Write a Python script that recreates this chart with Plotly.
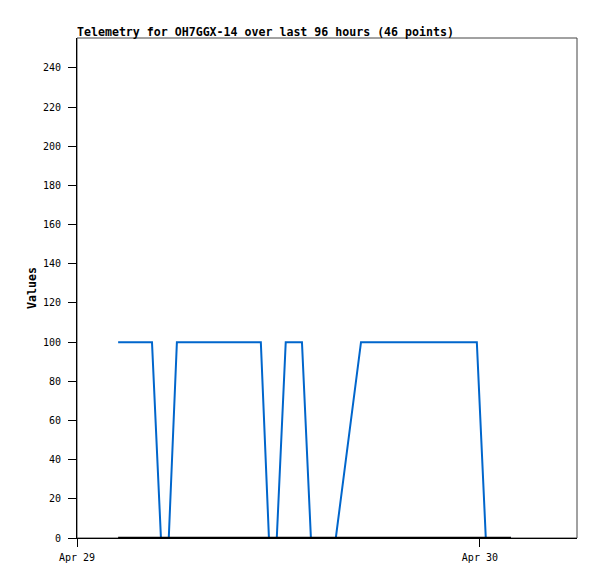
import plotly.graph_objects as go

times = [
    "2024-04-29 02:27", "2024-04-29 02:57", "2024-04-29 03:27", "2024-04-29 03:58", "2024-04-29 04:28",
    "2024-04-29 05:00", "2024-04-29 05:28",
    "2024-04-29 05:57", "2024-04-29 06:27", "2024-04-29 06:57", "2024-04-29 07:27", "2024-04-29 07:57",
    "2024-04-29 08:27", "2024-04-29 08:57", "2024-04-29 09:27", "2024-04-29 09:57", "2024-04-29 10:27",
    "2024-04-29 10:57",
    "2024-04-29 11:26", "2024-04-29 11:54",
    "2024-04-29 12:26", "2024-04-29 12:55", "2024-04-29 13:24",
    "2024-04-29 13:56", "2024-04-29 14:26", "2024-04-29 14:56", "2024-04-29 15:25",
    "2024-04-29 16:55", "2024-04-29 17:24", "2024-04-29 17:54", "2024-04-29 18:24", "2024-04-29 18:53",
    "2024-04-29 19:23", "2024-04-29 19:52", "2024-04-29 20:22", "2024-04-29 20:52", "2024-04-29 21:21",
    "2024-04-29 21:51", "2024-04-29 22:20", "2024-04-29 22:50", "2024-04-29 23:20", "2024-04-29 23:49",
    "2024-04-30 00:21", "2024-04-30 00:51", "2024-04-30 01:21", "2024-04-30 01:51",
]

blue_values = [
    100, 100, 100, 100, 100,
    0, 0,
    100, 100, 100, 100, 100, 100, 100, 100, 100, 100, 100,
    0, 0,
    100, 100, 100,
    0, 0, 0, 0,
    100, 100, 100, 100, 100, 100, 100, 100, 100, 100, 100, 100, 100, 100, 100,
    0, 0, 0, 0,
]

black_values = [0] * 46  # second channel, constant zero over all 46 points

title_text = "Telemetry for OH7GGX-14 over last 96 hours (46 points)"
y_label = "Values"
x_tick_vals = ["2024-04-29 00:00", "2024-04-30 00:00"]
x_tick_text = ["Apr 29", "Apr 30"]
y_tick_vals = [0, 20, 40, 60, 80, 100, 120, 140, 160, 180, 200, 220, 240]

FONT = "DejaVu Sans Mono"

fig = go.Figure()
fig.add_trace(go.Scatter(x=times, y=blue_values, mode="lines",
                         line=dict(color="#0066cc", width=2), showlegend=False))
fig.add_trace(go.Scatter(x=times, y=black_values, mode="lines",
                         line=dict(color="#000000", width=2.5), showlegend=False))

# the page body has an 8px default margin, so the figure is sized to compensate
fig.update_layout(
    width=589, height=571,
    margin=dict(l=69, r=20, t=30, b=41),
    paper_bgcolor="white", plot_bgcolor="white",
    font=dict(family=FONT, color="black", size=10),
    xaxis=dict(
        type="date",
        range=["2024-04-29 00:00", "2024-04-30 05:47"],
        tickmode="array", tickvals=x_tick_vals, ticktext=x_tick_text,
        showgrid=False, zeroline=False,
        showline=True, linecolor="black", linewidth=1,
        ticks="outside", ticklen=8, tickcolor="black", tickwidth=1,
        tickfont=dict(family=FONT, size=10),
        ticklabelstandoff=2,
    ),
    yaxis=dict(
        range=[0, 255.3],
        tickmode="array", tickvals=y_tick_vals,
        showgrid=False, zeroline=False,
        showline=True, linecolor="black", linewidth=1,
        ticks="outside", ticklen=8, tickcolor="black", tickwidth=1,
        tickfont=dict(family=FONT, size=10),
        ticklabelstandoff=5,
    ),
    shapes=[dict(type="rect", xref="paper", yref="paper", x0=0, x1=1, y0=0, y1=1,
                 line=dict(color="#444444", width=1), layer="below")],
    annotations=[
        dict(text="<b>" + title_text + "</b>", xref="paper", yref="paper",
             x=0, y=1, xanchor="left", yanchor="bottom", showarrow=False,
             font=dict(family=FONT, size=11.6, color="black"), yshift=-3, xshift=-2),
        dict(text="<b>" + y_label + "</b>", xref="paper", yref="paper",
             x=(32 - 77) / 500, y=0.5, xanchor="center", yanchor="middle",
             textangle=-90, showarrow=False,
             font=dict(family=FONT, size=11.6, color="black")),
    ],
)

fig.write_html("out.html")
